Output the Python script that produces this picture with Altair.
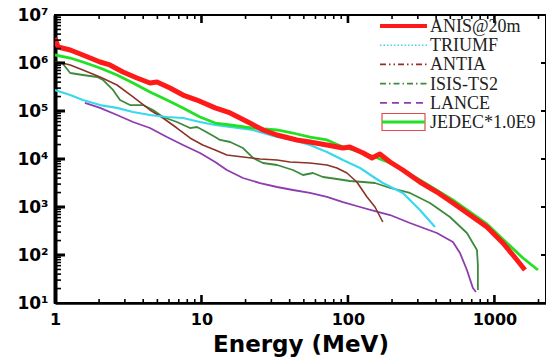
import altair as alt
import pandas as pd

# ---------------- data (Energy in MeV, flux) ----------------
anis_e = [1, 1.05, 1.27, 1.55, 2.03, 2.37, 2.91, 3.63, 4.45, 4.97, 6.10, 7.48, 9.31, 12.4, 15.7, 21.4,
          26.3, 32.8, 44.8, 55.0, 71.9, 92.5, 103, 127, 146, 165, 194, 237, 310, 405, 521, 681, 889,
          1143, 1426, 1616]
anis_f = [3.32e6, 2.15e6, 1.87e6, 1.47e6, 1.05e6, 9.1e5, 6.5e5, 4.87e5, 3.83e5, 4.02e5, 3.01e5, 2.15e5,
          1.69e5, 1.16e5, 9.09e4, 5.62e4, 4.02e4, 3.16e4, 2.49e4, 2.26e4, 1.96e4, 1.69e4, 1.78e4,
          1.33e4, 1.05e4, 1.27e4, 8.66e3, 5.9e3, 3.32e3, 2.05e3, 1.21e3, 681, 383, 178, 78.7, 48.7]

jedec_e = [1, 1.27, 1.55, 2.03, 2.65, 3.41, 4.45, 5.81, 7.48, 9.77, 12.4, 15.7, 22.5, 32.8, 42.1, 55.0,
           71.9, 92.5, 121, 153, 194, 310, 521, 889, 1217, 1566, 1982]
jedec_f = [1.47e6, 1.27e6, 1.05e6, 7.87e5, 5.62e5, 3.83e5, 2.49e5, 1.69e5, 1.16e5, 7.5e4, 5.62e4, 5.11e4,
           4.42e4, 4.02e4, 3.48e4, 2.87e4, 2.49e4, 1.78e4, 1.40e4, 1.10e4, 8.25e3, 3.65e3, 1.40e3, 443,
           178, 86.6, 48.7]

antia_e = [1, 1.12, 1.27, 1.55, 2.03, 2.65, 3.41, 4.45, 5.46, 6.80, 8.35, 10.2, 12.4, 14.9, 19.2, 25.1,
           32.8, 40.2, 55.0, 71.9, 84.1, 98.4, 115, 135, 153, 173]
antia_f = [1.0e6, 1.0e6, 9.09e5, 7.15e5, 5.11e5, 3.48e5, 1.96e5, 1.05e5, 7.15e4, 4.42e4, 2.74e4, 1.96e4,
           1.54e4, 1.21e4, 1.10e4, 1.0e4, 9.53e3, 8.66e3, 8.25e3, 7.5e3, 6.49e3, 5.11e3, 3.32e3, 1.62e3,
           1.0e3, 487]

isis_e = [1, 1.12, 1.27, 1.55, 1.94, 2.13, 2.49, 2.78, 3.25, 3.99, 4.67, 5.46, 6.80, 8.35, 9.31, 10.2,
          12.4, 13.4, 15.7, 19.2, 22.5, 26.3, 32.8, 42.1, 49.3, 57.7, 67.5, 84.1, 103, 127, 153, 194, 265,
          363, 497, 649, 760, 771, 771]
isis_f = [1.05e6, 1.0e6, 6.19e5, 5.62e5, 5.11e5, 4.42e5, 2.74e5, 1.69e5, 1.33e5, 1.33e5, 1.05e5, 7.5e4,
          5.9e4, 4.42e4, 4.64e4, 4.02e4, 2.87e4, 2.49e4, 2.26e4, 1.69e4, 1.05e4, 8.25e3, 7.5e3, 5.9e3,
          4.64e3, 5.11e3, 4.22e3, 3.83e3, 3.48e3, 3.32e3, 3.16e3, 2.49e3, 1.96e3, 1.21e3, 619, 287, 127,
          61.9, 18.7]

triumf_e = [1, 1.27, 1.55, 2.03, 2.65, 3.41, 4.45, 5.81, 7.48, 9.77, 12.4, 15.7, 22.5, 32.8, 42.1, 55.0,
            71.9, 92.5, 121, 153, 173, 237, 310, 393]
triumf_f = [2.74e5, 2.15e5, 1.69e5, 1.33e5, 1.16e5, 9.53e4, 8.25e4, 7.5e4, 7.15e4, 5.9e4, 5.11e4, 4.64e4,
            4.02e4, 2.87e4, 2.49e4, 1.96e4, 1.40e4, 9.53e3, 6.49e3, 4.02e3, 3.16e3, 1.96e3, 866, 383]

lance_e = [1.60, 2.03, 2.65, 3.41, 4.45, 5.81, 7.48, 9.77, 12.4, 14.9, 19.2, 25.1, 32.8, 42.1, 55.0, 71.9,
           92.5, 121, 153, 194, 265, 405, 521, 582, 649, 713, 748]
lance_f = [1.47e5, 1.16e5, 8.25e4, 5.9e4, 4.42e4, 2.87e4, 1.96e4, 1.33e4, 8.66e3, 5.9e3, 4.02e3, 3.16e3,
           2.61e3, 2.26e3, 1.96e3, 1.62e3, 1.27e3, 1.0e3, 825, 681, 464, 287, 187, 110, 48.7, 20.5, 16.9]

x_label_values = [1, 10, 100, 1000]
y_label_values = [10, 100, 1000, 1e4, 1e5, 1e6, 1e7]
x_minor = [2, 3, 4, 5, 6, 7, 8, 9, 20, 30, 40, 50, 60, 70, 80, 90, 200, 300, 400, 500, 600, 700, 800,
           900, 2000]
x_major = [10, 100, 1000]
y_minor = [m * 10 ** k for k in range(1, 7) for m in range(2, 10)]
y_major = [100, 1000, 1e4, 1e5, 1e6]

legend_names = ["ANIS@20m", "TRIUMF", "ANTIA", "ISIS-TS2", "LANCE", "JEDEC*1.0E9"]

# ---------------- styles ----------------
RED = "#ff1a1a"
GREEN = "#22e022"
CYAN = "#3ad8ec"
BROWN = "#8b3328"
DGREEN = "#3c8a3c"
PURPLE = "#8e3cae"

W, H = 491, 288

xscale = alt.Scale(type="log", domain=[1, 2250], nice=False)
yscale = alt.Scale(type="log", domain=[10, 1e7], nice=False)

sup = {10: "¹", 100: "²", 1000: "³", 10000: "⁴", 100000: "⁵", 1000000: "⁶", 10000000: "⁷"}
ylabel_expr = " : ".join(
    [f"datum.value < {v * 1.5} ? '10{s}'" for v, s in sup.items()] + ["''"]
)

xaxis = alt.Axis(values=x_label_values, format="d", title="Energy (MeV)", ticks=False, tickSize=0,
                 grid=False, domainColor="black", domainWidth=2.5, labelFont="DejaVu Sans",
                 labelFontWeight="bold", labelFontSize=16, labelColor="black", labelPadding=8,
                 labelFlush=False, labelOverlap=False, titleFont="DejaVu Sans", titleFontWeight="bold",
                 titleFontSize=23, titleColor="black", titlePadding=6)
yaxis = alt.Axis(values=y_label_values, labelExpr=ylabel_expr, title=None, ticks=False, tickSize=0,
                 grid=False, domainColor="black", domainWidth=4, labelFont="DejaVu Sans",
                 labelFontWeight="bold", labelFontSize=17, labelColor="black", labelPadding=7,
                 labelFlush=False, labelOverlap=False)


def X(field):
    return alt.X(f"{field}:Q", scale=xscale, axis=xaxis)


def Y(field):
    return alt.Y(f"{field}:Q", scale=yscale, axis=yaxis)


series = [
    ("ISIS-TS2", isis_e, isis_f, DGREEN, 1.8),
    ("LANCE", lance_e, lance_f, PURPLE, 1.8),
    ("ANTIA", antia_e, antia_f, BROWN, 1.6),
    ("TRIUMF", triumf_e, triumf_f, CYAN, 2.2),
    ("JEDEC*1.0E9", jedec_e, jedec_f, GREEN, 2.8),
    ("ANIS@20m", anis_e, anis_f, RED, 5),
]

layers = []
for name, es, fs, col, sw in series:
    d = pd.DataFrame({"E": es, "F": fs, "i": list(range(len(es)))})
    layers.append(
        alt.Chart(d).mark_line(color=col, strokeWidth=sw, clip=True, strokeJoin="round")
        .encode(x=X("E"), y=Y("F"), order="i:Q")
    )

# ---- inward ticks on all four sides ----
dxmin = pd.DataFrame({"t": x_minor})
dxmaj = pd.DataFrame({"t": x_major})
dymin = pd.DataFrame({"t": y_minor})
dymaj = pd.DataFrame({"t": y_major})

layers += [
    alt.Chart(dxmin).mark_rule(color="black", strokeWidth=1.6).encode(x=X("t"), y=alt.value(H), y2=alt.value(H - 4)),
    alt.Chart(dxmaj).mark_rule(color="black", strokeWidth=2.6).encode(x=X("t"), y=alt.value(H), y2=alt.value(H - 8)),
    alt.Chart(dxmin).mark_rule(color="black", strokeWidth=1.6).encode(x=X("t"), y=alt.value(0), y2=alt.value(4)),
    alt.Chart(dxmaj).mark_rule(color="black", strokeWidth=2.6).encode(x=X("t"), y=alt.value(0), y2=alt.value(8)),
    alt.Chart(dymin).mark_rule(color="black", strokeWidth=1.6).encode(y=Y("t"), x=alt.value(0), x2=alt.value(6)),
    alt.Chart(dymaj).mark_rule(color="black", strokeWidth=3).encode(y=Y("t"), x=alt.value(0), x2=alt.value(10)),
    alt.Chart(dymaj).mark_rule(color="black", strokeWidth=2).encode(y=Y("t"), x=alt.value(W), x2=alt.value(W - 5)),
]

# ---- manual legend (line styles as in the original legend) ----
leg_x0, leg_x1, leg_tx = 325, 372, 375
leg_y0, leg_dy = 11, 19.2
leg_styles = [
    (RED, 4, None),
    (CYAN, 1.6, [1.5, 2]),
    (BROWN, 1.6, [6, 3, 1.5, 3, 1.5, 3]),
    (DGREEN, 1.6, [6, 3, 1.5, 3]),
    (PURPLE, 1.8, [7, 5]),
]
one = pd.DataFrame({"a": [0]})
for i, name in enumerate(legend_names):
    yy = leg_y0 + i * leg_dy
    if i < len(leg_styles):
        col, sw, dash = leg_styles[i]
        kw = dict(color=col, strokeWidth=sw)
        if dash:
            kw["strokeDash"] = dash
        layers.append(alt.Chart(one).mark_rule(**kw).encode(
            x=alt.value(leg_x0), x2=alt.value(leg_x1), y=alt.value(yy)))
    else:
        layers.append(alt.Chart(one).mark_rect(fillOpacity=0, stroke="#e84a4a", strokeWidth=1.2).encode(
            x=alt.value(leg_x0 + 2), x2=alt.value(leg_x1 - 2), y=alt.value(yy - 8.5), y2=alt.value(yy + 8.5)))
        layers.append(alt.Chart(one).mark_rule(color=GREEN, strokeWidth=3).encode(
            x=alt.value(leg_x0 + 2), x2=alt.value(leg_x1 - 2), y=alt.value(yy)))
    layers.append(alt.Chart(one).mark_text(align="left", baseline="middle", font="Liberation Serif",
                                           fontSize=18, color="#222222", text=name).encode(
        x=alt.value(leg_tx), y=alt.value(yy + 1)))

chart = alt.layer(*layers).properties(
    width=W, height=H,
    autosize=alt.AutoSizeParams(type="none"),
    padding={"left": 55, "top": 15, "right": 0, "bottom": 56},
    background="white",
).configure_view(stroke="black", strokeWidth=2)

chart.save("out.html", embed_options={"renderer": "svg", "actions": False})
